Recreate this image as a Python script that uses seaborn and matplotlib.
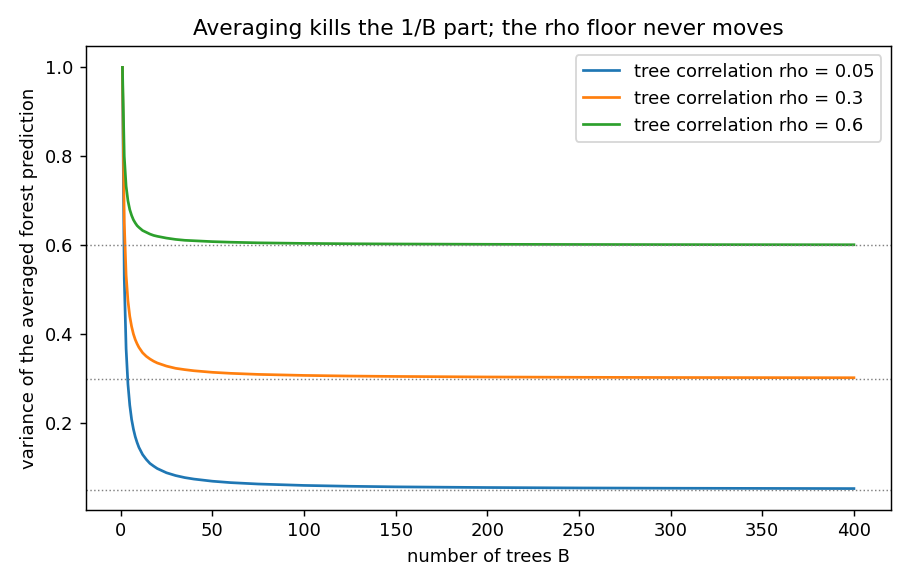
import numpy as np
import pandas as pd
import matplotlib
matplotlib.use("Agg")
import matplotlib.pyplot as plt
import seaborn as sns

n_trees = [1, 2, 3, 4, 5, 6, 7, 8, 9, 10, 12, 14, 16, 18, 20, 25, 30, 35, 40,
           50, 60, 75, 100, 125, 150, 200, 250, 300, 400]

# variance for each rho
var_rho_005 = [1.0, 0.525, 0.367, 0.2875, 0.24, 0.208, 0.186, 0.169, 0.156, 0.145,
               0.129, 0.118, 0.109, 0.103, 0.0975, 0.088, 0.0817, 0.0771, 0.0738,
               0.069, 0.0658, 0.0627, 0.0595, 0.0576, 0.0563, 0.0548, 0.0538, 0.0532, 0.0524]
var_rho_03 = [1.0, 0.65, 0.533, 0.475, 0.44, 0.417, 0.4, 0.3875, 0.378, 0.37,
              0.358, 0.35, 0.344, 0.339, 0.335, 0.328, 0.323, 0.32, 0.3175,
              0.314, 0.3117, 0.3093, 0.307, 0.3056, 0.3047, 0.3035, 0.3028, 0.3023, 0.3018]
var_rho_06 = [1.0, 0.8, 0.733, 0.7, 0.68, 0.667, 0.657, 0.65, 0.644, 0.64,
              0.633, 0.629, 0.625, 0.622, 0.62, 0.616, 0.613, 0.611, 0.61,
              0.608, 0.6067, 0.6053, 0.604, 0.6032, 0.6027, 0.602, 0.6016, 0.6013, 0.601]

rhos = [0.05, 0.3, 0.6]
labels = ["tree correlation rho = 0.05", "tree correlation rho = 0.3",
          "tree correlation rho = 0.6"]

df = pd.concat([
    pd.DataFrame({"B": n_trees, "var": v, "series": lab})
    for v, lab in zip([var_rho_005, var_rho_03, var_rho_06], labels)
])

fig, ax = plt.subplots(figsize=(7, 4.5), dpi=130)
sns.lineplot(data=df, x="B", y="var", hue="series", palette="tab10", ax=ax)

for r in rhos:
    ax.axhline(r, color="gray", linestyle=":", linewidth=0.8)

ax.set_title("Averaging kills the 1/B part; the rho floor never moves")
ax.set_xlabel("number of trees B")
ax.set_ylabel("variance of the averaged forest prediction")
ax.legend(title=None)

fig.tight_layout()
fig.savefig("out.png")
